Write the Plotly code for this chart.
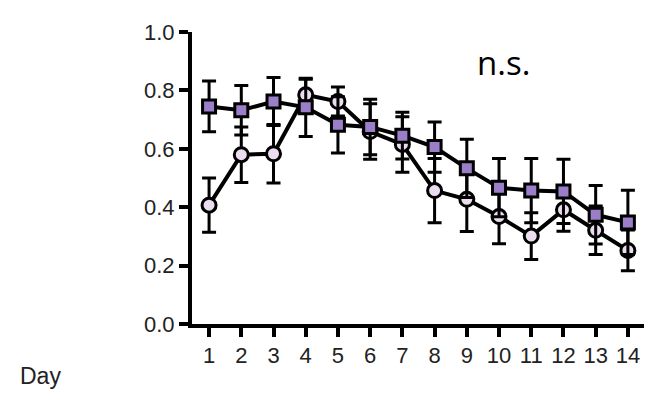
import plotly.graph_objects as go

days = list(range(1, 15))
day_labels = [str(d) for d in days]

# Circle series (light fill)
circle_mean = [0.407, 0.580, 0.583, 0.785, 0.762, 0.659, 0.615, 0.457, 0.427, 0.368, 0.301, 0.391, 0.321, 0.252]
circle_err  = [0.093, 0.095, 0.100, 0.053, 0.050, 0.095, 0.095, 0.110, 0.110, 0.093, 0.080, 0.073, 0.083, 0.070]

# Square series (purple fill)
square_mean = [0.745, 0.732, 0.762, 0.742, 0.682, 0.675, 0.645, 0.606, 0.533, 0.467, 0.457, 0.454, 0.374, 0.348]
square_err  = [0.087, 0.085, 0.082, 0.100, 0.096, 0.095, 0.080, 0.086, 0.100, 0.100, 0.110, 0.110, 0.100, 0.110]

y_ticks = [0.0, 0.2, 0.4, 0.6, 0.8, 1.0]
y_tick_labels = ["0.0", "0.2", "0.4", "0.6", "0.8", "1.0"]

W, H = 655, 403
# page body has an 8px margin; compensate so screen positions match
l, r, t, b = 184, 19, 14, 87
pw, ph = W - l - r, H - t - b

def px(xs, ys):
    # screen pixel -> paper coords
    xf, yf = xs - 8, ys - 8
    return (xf - l) / pw, (H - b - yf) / ph

fig = go.Figure()

fig.add_trace(go.Scatter(
    x=days, y=circle_mean, mode="lines+markers",
    line=dict(color="black", width=4),
    marker=dict(symbol="circle", size=14, color="#ecdcef", line=dict(color="black", width=3)),
    error_y=dict(type="data", array=circle_err, visible=True, color="black", thickness=3, width=7),
    showlegend=False,
))

fig.add_trace(go.Scatter(
    x=days, y=square_mean, mode="lines+markers",
    line=dict(color="black", width=4),
    marker=dict(symbol="square", size=13, color="#9a7ec8", line=dict(color="black", width=3)),
    error_y=dict(type="data", array=square_err, visible=True, color="black", thickness=3, width=7),
    showlegend=False,
))

nx, ny = px(503, 54)
fig.add_annotation(text="n.s.", x=nx, y=ny, xref="paper", yref="paper", showarrow=False,
                   xanchor="center", yanchor="middle",
                   font=dict(family="Open Sans", size=33, color="black"))

dx, dy = px(40, 378)
fig.add_annotation(text="Day", x=dx, y=dy, xref="paper", yref="paper", showarrow=False,
                   xanchor="center", yanchor="middle",
                   font=dict(family="Liberation Sans, Arial", size=23, color="#222222"))

fig.update_layout(
    width=W, height=H,
    margin=dict(l=l, r=r, t=t, b=b),
    plot_bgcolor="white", paper_bgcolor="white",
    font=dict(family="Liberation Sans, Arial", size=22, color="#222222"),
)

fig.update_xaxes(
    range=[0.47, 14.5], tickmode="array", tickvals=days, ticktext=day_labels,
    showline=True, linecolor="black", linewidth=4,
    ticks="outside", ticklen=9, tickwidth=4, tickcolor="black",
    showgrid=False, zeroline=False, tickfont=dict(size=22),
)
fig.update_yaxes(
    range=[0, 1.0], tickmode="array", tickvals=y_ticks, ticktext=y_tick_labels,
    showline=True, linecolor="black", linewidth=4,
    ticks="outside", ticklen=9, tickwidth=4, tickcolor="black",
    showgrid=False, zeroline=False, tickfont=dict(size=22),
)

fig.write_html("out.html")
